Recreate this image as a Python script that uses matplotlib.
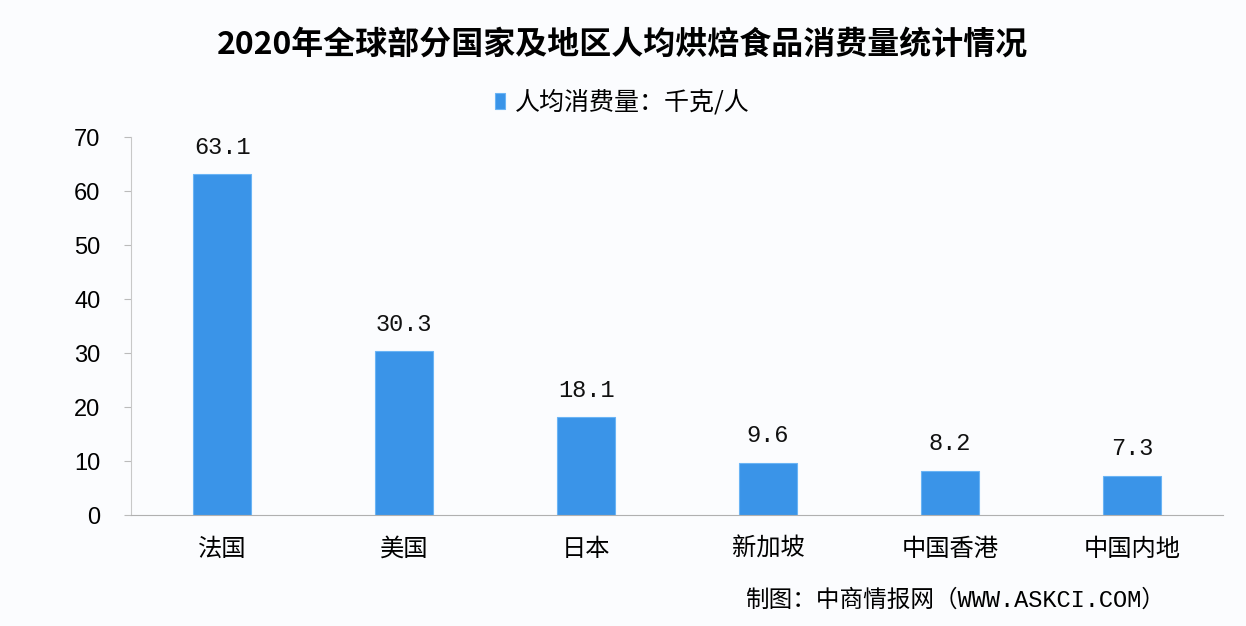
import matplotlib
matplotlib.use("Agg")
import matplotlib.pyplot as plt
import numpy as np

categories = ["法国", "美国", "日本", "新加坡", "中国香港", "中国内地"]
values = [63.1, 30.3, 18.1, 9.6, 8.2, 7.3]
yticks = [0, 10, 20, 30, 40, 50, 60, 70]
title = "2020年全球部分国家及地区人均烘焙食品消费量统计情况"
legend_label = "人均消费量：千克/人"
source = "制图：中商情报网（WWW.ASKCI.COM）"

plt.rcParams['font.family'] = ['Noto Sans CJK SC', 'DejaVu Sans']

fig = plt.figure(figsize=(12.46, 6.26), dpi=100)
fig.patch.set_facecolor('#fbfcfe')
ax = fig.add_axes([131/1246, 1-515/626, (1223-131)/1246, (515-137)/626])
ax.set_facecolor('none')

x = np.arange(len(categories))
bars = ax.bar(x, values, width=0.32, color='#3a94e8', edgecolor='#6ab4f5', linewidth=0.8,
              label=legend_label)
for xi, v in zip(x, values):
    ax.text(xi, v + 2.9, f"{v}", ha='center', va='bottom', fontsize=17,
            family=['Liberation Mono', 'Noto Sans CJK SC'], color='#111111')

ax.set_xlim(-0.5, len(categories) - 0.5)
ax.set_ylim(0, 70)
ax.set_yticks(yticks)
ax.set_yticklabels([str(t) for t in yticks], fontsize=17, family=['Liberation Sans', 'DejaVu Sans'])
ax.set_xticks(x)
ax.set_xticklabels(categories, fontsize=17.5)
ax.tick_params(axis='x', length=0, pad=15)
ax.tick_params(axis='y', length=5, color='#bbbbbb', pad=17)
for s in ['top', 'right']:
    ax.spines[s].set_visible(False)
ax.spines['left'].set_color('#c8c8c8')
ax.spines['bottom'].set_color('#b0b0b0')

fig.text(0.5, 1-45/626, title, ha='center', va='center', fontsize=23, fontweight='bold')
leg = fig.legend(handles=[bars], labels=[legend_label], loc='center',
                 bbox_to_anchor=(622/1246, 1-103/626), frameon=False, fontsize=18,
                 handlelength=0.4, handleheight=0.6, handletextpad=0.4)
fig.text(1165/1246, 1-600/626, source, ha='right', va='center', fontsize=17,
         family=['Liberation Mono', 'Noto Sans CJK SC'])

fig.savefig("out.png", dpi=100, facecolor=fig.get_facecolor())
